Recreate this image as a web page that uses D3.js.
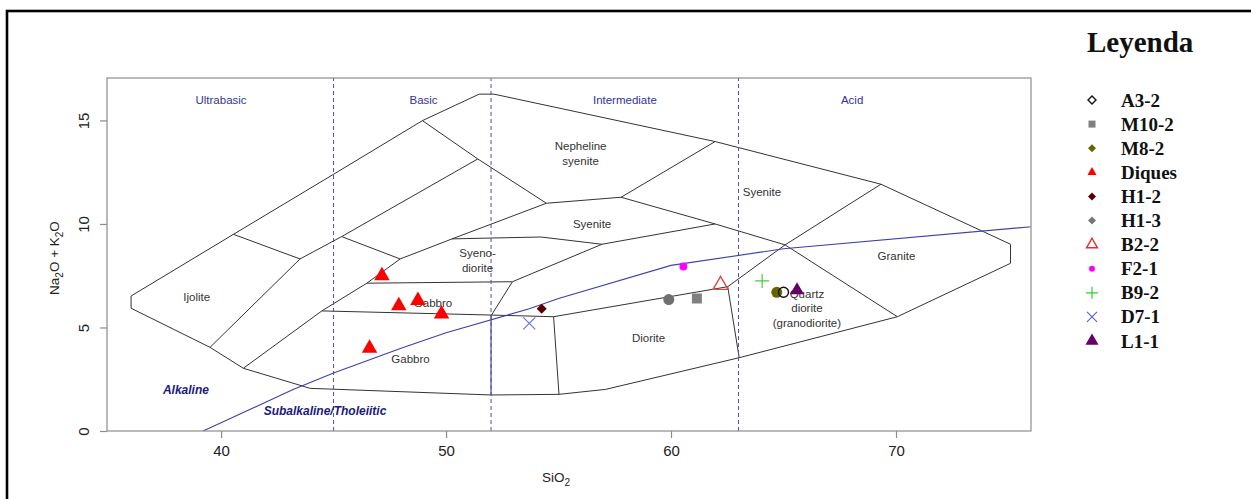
<!DOCTYPE html>
<html>
<head>
<meta charset="utf-8">
<script src="https://cdn.jsdelivr.net/npm/d3@7"></script>
<style>
body { margin: 0; background: #fff; }
svg text { font-family: "Liberation Sans", Arial, sans-serif; }
</style>
</head>
<body>
<div id="graph"></div>
<script>
// ---- data (SiO2, Na2O+K2O) ----
var xTicks = [40, 50, 60, 70];
var yTicks = [0, 5, 10, 15];

var diquesSiO2 = [47.15, 47.9, 48.75, 49.8, 46.6];
var diquesAlk  = [7.5, 6.05, 6.3, 5.65, 4.0];

var sampleNames = ["H1-2", "D7-1", "F2-1", "H1-3", "M10-2", "B2-2", "B9-2", "M8-2", "A3-2", "L1-1"];
var sampleSiO2  = [54.25, 53.7, 60.55, 59.9, 61.15, 62.2, 64.05, 64.7, 65.0, 65.6];
var sampleAlk   = [5.9, 5.2, 7.95, 6.35, 6.4, 7.05, 7.25, 6.7, 6.7, 6.8];

var legendNames = ["A3-2", "M10-2", "M8-2", "Diques", "H1-2", "H1-3", "B2-2", "F2-1", "B9-2", "D7-1", "L1-1"];

// TAS plutonic field boundaries (Cox et al. 1979, after Wilson 1989)
var outerBoundary = [[36.0,6.52],[40.55,9.5],[45.0,12.4],[48.95,14.99],[51.47,16.27],[52.13,16.27],
  [61.96,13.98],[69.33,11.92],[75.09,9.02],[75.09,8.1],[70.06,5.52],[63.03,3.54],[57.09,2.01],
  [55.02,1.77],[52.0,1.74],[43.96,2.06],[40.99,3.03],[39.51,4.04],[36.0,5.93],[36.0,6.52]];
var fieldLines = [
  [[39.51,4.04],[43.51,8.31],[40.55,9.5]],
  [[43.51,8.31],[45.36,9.39],[51.41,13.14]],
  [[48.95,14.99],[51.41,13.14],[54.46,11.0]],
  [[45.36,9.39],[47.96,8.31]],
  [[40.99,3.03],[44.48,5.8],[46.48,7.14],[47.96,8.31],[50.27,9.28],[54.46,11.0]],
  [[54.46,11.0],[57.78,11.29],[61.96,13.98]],
  [[57.78,11.29],[61.96,10.0],[65.07,8.99],[70.06,5.52]],
  [[50.27,9.28],[54.22,9.37],[56.93,9.02],[61.96,10.0]],
  [[56.93,9.02],[52.95,7.21],[52.02,5.6]],
  [[46.48,7.14],[52.95,7.21]],
  [[44.48,5.8],[52.02,5.6],[54.78,5.52],[62.52,6.97]],
  [[69.33,11.92],[65.07,8.99],[62.52,6.97]],
  [[62.52,6.97],[63.03,3.54]],
  [[54.78,5.52],[55.02,1.77]]
];
var gabbroDioriteLine = [[52.0,5.6],[52.0,1.74]];

// alkaline / subalkaline divide (Irvine & Baragar 1971)
var alkLineSiO2 = [39.2, 40, 43.2, 45, 48, 50, 53.7, 55, 60, 65, 77.4];
var alkLineAlk  = [0, 0.4, 2, 2.8, 4, 4.75, 5.9, 6.4, 8, 8.8, 10];

var silicaDivides = [45, 52, 63];
var groupNames = ["Ultrabasic", "Basic", "Intermediate", "Acid"];
var groupSiO2  = [40, 49, 57.95, 68.05];

var fieldNames = [["Ijolite"], ["Gabbro"], ["Gabbro"], ["Syeno-", "diorite"], ["Nepheline", "syenite"],
  ["Syenite"], ["Syenite"], ["Granite"], ["Quartz", "diorite", "(granodiorite)"], ["Diorite"]];
var fieldSiO2 = [38.92, 48.42, 49.42, 51.4, 55.98, 56.49, 64.04, 70.02, 66.04, 59.0];
var fieldAlk  = [6.49, 3.47, 6.17, 8.24, 13.4, 10.0, 11.53, 8.45, 5.93, 4.48];

// ---- styles ----
var markerStyle = {
  "Diques": {shape: "triangle", size: 15.5, fill: "#ff0000"},
  "H1-2":   {shape: "diamond", size: 10, fill: "#5a0000"},
  "D7-1":   {shape: "x", size: 12, stroke: "#7070ee"},
  "F2-1":   {shape: "circle", size: 8, fill: "#ff00ff"},
  "H1-3":   {shape: "circle", size: 11, fill: "#707070"},
  "M10-2":  {shape: "square", size: 10, fill: "#808080"},
  "B2-2":   {shape: "triangle", size: 15, stroke: "#e04848"},
  "B9-2":   {shape: "plus", size: 14, stroke: "#44cc44"},
  "M8-2":   {shape: "circle", size: 11, fill: "#666600"},
  "A3-2":   {shape: "circle", size: 10, stroke: "#111"},
  "L1-1":   {shape: "triangle", size: 14, fill: "#660066"}
};
var legendStyle = {
  "A3-2":   {shape: "diamond", size: 8, stroke: "#111"},
  "M10-2":  {shape: "square", size: 7, fill: "#808080"},
  "M8-2":   {shape: "diamond", size: 8, fill: "#666600"},
  "Diques": {shape: "triangle", size: 9, fill: "#ff0000"},
  "H1-2":   {shape: "diamond", size: 8, fill: "#5a0000"},
  "H1-3":   {shape: "diamond", size: 8, fill: "#777777"},
  "B2-2":   {shape: "triangle", size: 11, stroke: "#e03030"},
  "F2-1":   {shape: "circle", size: 6, fill: "#ff00ff"},
  "B9-2":   {shape: "plus", size: 12, stroke: "#33cc33"},
  "D7-1":   {shape: "x", size: 10, stroke: "#6060e0"},
  "L1-1":   {shape: "triangle", size: 13, fill: "#660066"}
};

var svg = d3.select("#graph").append("svg")
    .attr("width", 1251)
    .attr("height", 499);

// outer frame of the figure
svg.append("rect")
    .attr("x", 7).attr("y", 11)
    .attr("width", 1300).attr("height", 600)
    .style("fill", "none")
    .style("stroke", "#000")
    .style("stroke-width", 2.6);

var x = d3.scaleLinear().domain([34.93, 76.0]).range([107, 1031]);
var y = d3.scaleLinear().domain([0, 17.05]).range([431, 78]);

svg.append("clipPath").attr("id", "plotclip")
  .append("rect")
    .attr("x", x.range()[0]).attr("y", y.range()[1])
    .attr("width", x.range()[1] - x.range()[0])
    .attr("height", y.range()[0] - y.range()[1]);

var line = d3.line()
    .x(function(d) { return x(d[0]); })
    .y(function(d) { return y(d[1]); });

// field boundaries
svg.append("path")
    .datum(outerBoundary)
    .attr("d", line)
    .style("fill", "none")
    .style("stroke", "#333")
    .style("stroke-width", 1);

svg.selectAll(".field")
    .data(fieldLines)
  .enter().append("path")
    .attr("class", "field")
    .attr("d", line)
    .style("fill", "none")
    .style("stroke", "#333")
    .style("stroke-width", 1);

// silica divisions
svg.selectAll(".divide")
    .data(silicaDivides)
  .enter().append("line")
    .attr("class", "divide")
    .attr("x1", function(d) { return x(d); })
    .attr("x2", function(d) { return x(d); })
    .attr("y1", y.range()[0])
    .attr("y2", y.range()[1])
    .style("stroke", "#5050b0")
    .style("stroke-dasharray", "4,3")
    .style("stroke-width", 1);

svg.append("path")
    .datum(gabbroDioriteLine)
    .attr("d", line)
    .style("stroke", "#4a4aa8")
    .style("stroke-width", 1.2);

// alkaline / subalkaline line
svg.append("path")
    .datum(d3.zip(alkLineSiO2, alkLineAlk))
    .attr("d", line)
    .attr("clip-path", "url(#plotclip)")
    .style("fill", "none")
    .style("stroke", "#4040a8")
    .style("stroke-width", 1.1);

// group labels
svg.selectAll(".group")
    .data(groupNames)
  .enter().append("text")
    .attr("class", "group")
    .attr("x", function(d, i) { return x(groupSiO2[i]); })
    .attr("y", y(16) + 4)
    .attr("text-anchor", "middle")
    .style("font-size", "11.5px")
    .style("fill", "#333399")
    .text(function(d) { return d; });

// field labels
var fl = svg.selectAll(".flabel")
    .data(fieldNames)
  .enter().append("text")
    .attr("class", "flabel")
    .attr("text-anchor", "middle")
    .style("font-size", "11.5px")
    .style("fill", "#333");
fl.each(function(d, i) {
  var t = d3.select(this);
  var lh = 14.6;
  var y0 = y(fieldAlk[i]) - (d.length - 1) * lh / 2 + 4;
  d.forEach(function(s, j) {
    t.append("tspan")
        .attr("x", x(fieldSiO2[i]))
        .attr("y", y0 + j * lh)
        .text(s);
  });
});

svg.append("text")
    .attr("x", x(38.44)).attr("y", y(1.98) + 4)
    .attr("text-anchor", "middle")
    .style("font-size", "12px").style("font-weight", "bold").style("font-style", "italic")
    .style("fill", "#1a1a80")
    .text("Alkaline");
svg.append("text")
    .attr("x", x(44.62)).attr("y", y(0.97) + 4)
    .attr("text-anchor", "middle")
    .style("font-size", "12px").style("font-weight", "bold").style("font-style", "italic")
    .style("fill", "#1a1a80")
    .text("Subalkaline/Tholeiitic");

// plot box
svg.append("rect")
    .attr("x", x.range()[0]).attr("y", y.range()[1])
    .attr("width", x.range()[1] - x.range()[0])
    .attr("height", y.range()[0] - y.range()[1])
    .style("fill", "none")
    .style("stroke", "#8c8c8c")
    .style("stroke-width", 1.2);

// axes
var gx = svg.append("g")
    .attr("transform", "translate(0," + y.range()[0] + ")")
    .call(d3.axisBottom(x).tickValues(xTicks).tickSize(7).tickPadding(7));
var gy = svg.append("g")
    .attr("transform", "translate(" + x.range()[0] + ",0)")
    .call(d3.axisLeft(y).tickValues(yTicks).tickSize(7).tickPadding(7));
[gx, gy].forEach(function(g) {
  g.select(".domain").remove();
  g.selectAll(".tick line").style("stroke", "#8c8c8c").style("stroke-width", 1.2);
  g.selectAll(".tick text")
      .style("font-family", "'Liberation Sans', Arial, sans-serif")
      .style("font-size", "15px")
      .style("fill", "#222");
});
gy.selectAll(".tick text")
    .attr("x", 0).attr("dy", 0)
    .attr("text-anchor", "middle")
    .attr("transform", "translate(-18,0) rotate(-90)");

// axis titles
var xt = svg.append("text")
    .attr("x", 556).attr("y", 482)
    .attr("text-anchor", "middle")
    .style("font-size", "13.5px").style("fill", "#222");
xt.append("tspan").text("SiO");
xt.append("tspan").attr("dy", 4).style("font-size", "10px").text("2");

var yt = svg.append("text")
    .attr("transform", "translate(59,258) rotate(-90)")
    .attr("text-anchor", "middle")
    .style("font-size", "13.5px").style("fill", "#222");
yt.append("tspan").text("Na");
yt.append("tspan").attr("dy", 4).style("font-size", "10px").text("2");
yt.append("tspan").attr("dy", -4).text("O + K");
yt.append("tspan").attr("dy", 4).style("font-size", "10px").text("2");
yt.append("tspan").attr("dy", -4).text("O");

// marker drawing
function drawMarker(g, st) {
  var s = st.size, h = s / 2;
  var fill = st.fill || "none", stroke = st.stroke || "none";
  var sw = st.fill ? 0 : 1.4;
  if (st.shape === "circle") {
    g.append("circle").attr("r", h)
        .style("fill", fill).style("stroke", stroke).style("stroke-width", sw);
  } else if (st.shape === "square") {
    g.append("rect").attr("x", -h).attr("y", -h).attr("width", s).attr("height", s)
        .style("fill", fill);
  } else if (st.shape === "diamond") {
    g.append("path").attr("d", "M0," + (-h) + "L" + h + ",0L0," + h + "L" + (-h) + ",0Z")
        .style("fill", fill).style("stroke", stroke).style("stroke-width", sw);
  } else if (st.shape === "triangle") {
    var r = s / Math.sqrt(3);
    g.append("path").attr("d", "M0," + (-r) + "L" + h + "," + (r / 2) + "L" + (-h) + "," + (r / 2) + "Z")
        .style("fill", fill).style("stroke", stroke).style("stroke-width", sw);
  } else if (st.shape === "plus") {
    g.append("path").attr("d", "M" + (-h) + ",0H" + h + "M0," + (-h) + "V" + h)
        .style("stroke", stroke).style("stroke-width", 1.2);
  } else if (st.shape === "x") {
    g.append("path").attr("d", "M" + (-h) + "," + (-h) + "L" + h + "," + h + "M" + (-h) + "," + h + "L" + h + "," + (-h))
        .style("stroke", stroke).style("stroke-width", 1.2);
  }
}

// samples
diquesSiO2.forEach(function(v, i) {
  var g = svg.append("g").attr("transform", "translate(" + x(v) + "," + y(diquesAlk[i]) + ")");
  drawMarker(g, markerStyle["Diques"]);
});
sampleNames.forEach(function(n, i) {
  var g = svg.append("g").attr("transform", "translate(" + x(sampleSiO2[i]) + "," + y(sampleAlk[i]) + ")");
  drawMarker(g, markerStyle[n]);
});

// legend
svg.append("text")
    .attr("x", 1087).attr("y", 52)
    .style("font-family", "'Liberation Serif', 'Times New Roman', serif")
    .style("font-weight", "bold")
    .style("font-size", "29px")
    .style("fill", "#111")
    .text("Leyenda");

var leg = svg.selectAll(".leg")
    .data(legendNames)
  .enter().append("g")
    .attr("class", "leg")
    .attr("transform", function(d, i) { return "translate(1092," + (100 + i * 24.1) + ")"; });
leg.each(function(d) { drawMarker(d3.select(this), legendStyle[d]); });
leg.append("text")
    .attr("x", 29).attr("y", 6.5)
    .style("font-family", "'Liberation Serif', 'Times New Roman', serif")
    .style("font-weight", "bold")
    .style("font-size", "19px")
    .style("fill", "#111")
    .text(function(d) { return d; });
</script>
</body>
</html>
